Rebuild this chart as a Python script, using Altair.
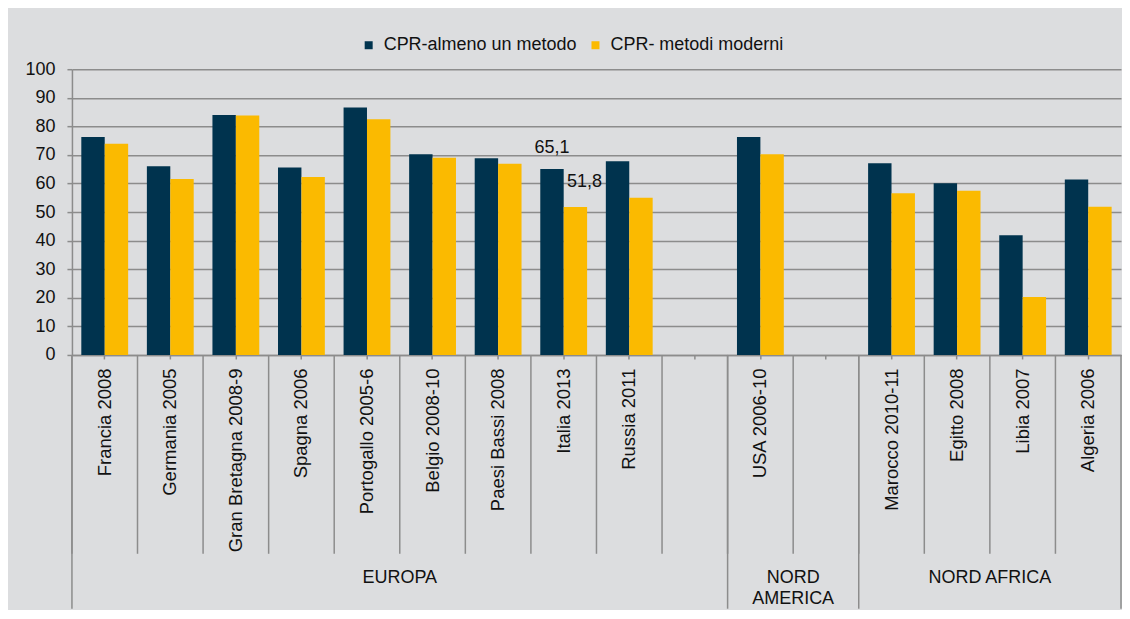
import altair as alt
import pandas as pd

categories = ["Francia 2008", "Germania 2005", "Gran Bretagna 2008-9", "Spagna 2006",
              "Portogallo 2005-6", "Belgio 2008-10", "Paesi Bassi 2008", "Italia 2013",
              "Russia 2011", " ", "USA 2006-10", "  ", "Marocco 2010-11", "Egitto 2008",
              "Libia 2007", "Algeria 2006"]
almeno = [76.3, 66.0, 84.0, 65.6, 86.6, 70.2, 68.8, 65.1, 67.8, None, 76.3, None, 67.1, 60.1, 41.9, 61.4]
moderni = [73.9, 61.6, 83.8, 62.3, 82.5, 69.0, 66.9, 51.8, 55.0, None, 70.2, None, 56.6, 57.5, 20.3, 51.9]
series = ["CPR-almeno un metodo", "CPR- metodi moderni"]
colors = ["#00334E", "#FBBA00"]

groups = ["EUROPA", "NORD\nAMERICA", "NORD AFRICA"]
group_center_cat = ["Portogallo 2005-6", "USA 2006-10", "Egitto 2008"]
group_start_cat = ["Francia 2008", "USA 2006-10", "Marocco 2010-11"]
group_end_cat = ["Algeria 2006"]
y_ticks = [0, 10, 20, 30, 40, 50, 60, 70, 80, 90, 100]

labelled_cat = "Italia 2013"

rows = []
for c, a, m in zip(categories, almeno, moderni):
    if a is not None:
        rows.append({"cat": c, "series": series[0], "value": a})
    if m is not None:
        rows.append({"cat": c, "series": series[1], "value": m})
df = pd.DataFrame(rows)
df["label"] = df["value"].map(lambda v: f"{v:.1f}".replace(".", ","))

cats_df = pd.DataFrame({"cat": categories})
gstart_df = pd.DataFrame({"cat": group_start_cat})
gend_df = pd.DataFrame({"cat": group_end_cat})
gtext_df = pd.DataFrame({"cat": group_center_cat, "g": groups})

FONT = "Liberation Sans"
GRAY = "#8C8C8C"
TXT = "#111111"

xscale = alt.Scale(domain=categories, paddingInner=0, paddingOuter=0)
xaxis = alt.Axis(title=None, labelAngle=270, labelAlign="right", labelBaseline="middle",
                 labelFontSize=18.5, labelLimit=400, labelPadding=9, tickSize=4,
                 tickColor=GRAY, tickWidth=1.5, domainColor=GRAY, domainWidth=1.5,
                 labelColor=TXT, grid=False, labelFont=FONT)
yscale = alt.Scale(domain=[0, 100])
yaxis = alt.Axis(title=None, values=y_ticks, grid=True, gridColor=GRAY,
                 gridWidth=1.5, domainColor=GRAY, domainWidth=1.5, tickColor=GRAY,
                 tickWidth=1.5, tickSize=5, labelPadding=12, labelFontSize=18,
                 labelColor=TXT, labelFont=FONT)
offscale = alt.Scale(domain=series, paddingInner=0, paddingOuter=0.4)


def X(**kw):
    return alt.X("cat:N", scale=xscale, axis=xaxis, sort=categories, **kw)


bars = alt.Chart(df).mark_bar().encode(
    x=X(),
    xOffset=alt.XOffset("series:N", scale=offscale),
    y=alt.Y("value:Q", scale=yscale, axis=yaxis),
    color=alt.Color("series:N", scale=alt.Scale(domain=series, range=colors),
                    legend=alt.Legend(title=None, orient="none", legendX=288, legendY=-33,
                                      direction="horizontal", symbolType="square", symbolSize=64,
                                      labelFontSize=18, labelFont=FONT, labelOffset=6,
                                      labelLimit=400, columnPadding=9, symbolStrokeWidth=0,
                                      labelColor=TXT)),
)

seps = alt.Chart(cats_df).mark_rule(color=GRAY, strokeWidth=1.5).encode(
    x=X(bandPosition=0), y=alt.value(286), y2=alt.value(485))

gseps = alt.Chart(gstart_df).mark_rule(color=GRAY, strokeWidth=1.5).encode(
    x=X(bandPosition=0), y=alt.value(286), y2=alt.value(540))

gend = alt.Chart(gend_df).mark_rule(color=GRAY, strokeWidth=1.5).encode(
    x=X(bandPosition=1), y=alt.value(286), y2=alt.value(540))

gtext = alt.Chart(gtext_df).mark_text(fontSize=18, font=FONT, color=TXT, lineBreak="\n",
                                      lineHeight=21, baseline="alphabetic", align="center").encode(
    x=X(bandPosition=1), y=alt.value(514), text="g:N")

lab_a = alt.Chart(df[(df.cat == labelled_cat) & (df.series == series[0])]).mark_text(
    fontSize=18, font=FONT, color=TXT, baseline="middle", dy=-21).encode(
    x=X(), xOffset=alt.XOffset("series:N", scale=offscale),
    y=alt.Y("value:Q", scale=yscale, axis=yaxis), text="label:N")

lab_m = alt.Chart(df[(df.cat == labelled_cat) & (df.series == series[1])]).mark_text(
    fontSize=18, font=FONT, color=TXT, baseline="middle", dy=-25, dx=9).encode(
    x=X(), xOffset=alt.XOffset("series:N", scale=offscale),
    y=alt.Y("value:Q", scale=yscale, axis=yaxis), text="label:N")

chart = alt.layer(bars, seps, gseps, gend, gtext, lab_a, lab_m).properties(
    width=1050, height=286,
    padding={"left": 16, "top": 28, "right": 0, "bottom": 0},
    background="#DCDDDF",
).configure(font=FONT, view=alt.ViewConfig(stroke=None))

chart.save("out.html", embed_options={"renderer": "svg", "actions": False})
